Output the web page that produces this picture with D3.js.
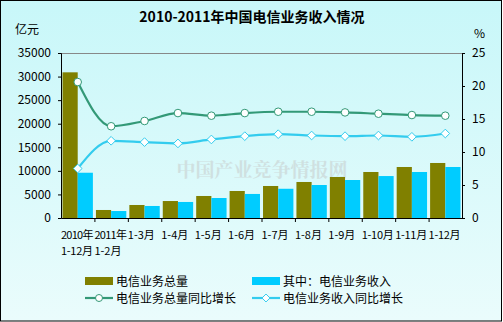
<!DOCTYPE html>
<html><head><meta charset="utf-8">
<script src="https://cdn.jsdelivr.net/npm/d3@7"></script>
<style>body{margin:0;padding:0;overflow:hidden}svg{display:block}</style>
</head><body>
<svg id="c" width="503" height="322"></svg>
<script>
const categories = ["2010年\n1-12月","2011年\n1-2月","1-3月","1-4月","1-5月","1-6月","1-7月","1-8月","1-9月","1-10月","1-11月","1-12月"];
const volume = [30900,1700,2760,3600,4670,5730,6790,7640,8700,9760,10820,11670];
const revenue = [9600,1480,2550,3400,4240,5100,6200,7000,8060,8900,9760,10820];
const volumeGrowth = [20.6,13.9,14.7,15.9,15.5,15.9,16.1,16.1,16.0,15.8,15.6,15.5];
const revenueGrowth = [7.5,11.7,11.5,11.3,11.9,12.4,12.7,12.5,12.4,12.5,12.3,12.8];
const leftTicks = [0,5000,10000,15000,20000,25000,30000,35000];
const rightTicks = [0,5,10,15,20,25];
const seriesNames = ["电信业务总量","其中：电信业务收入","电信业务总量同比增长","电信业务收入同比增长"];

const svg = d3.select("#c");
const W=503,H=322;
const font = "'Noto Sans CJK SC', sans-serif";
const defs = svg.append("defs");
const g1 = defs.append("linearGradient").attr("id","bg").attr("x1",0).attr("y1",0).attr("x2",0).attr("y2",1);
g1.append("stop").attr("offset","0%").attr("stop-color","#c8f7f9");
g1.append("stop").attr("offset","100%").attr("stop-color","#eafcfc");
svg.append("rect").attr("x",0.5).attr("y",0.5).attr("width",W-2).attr("height",H-1.5)
  .attr("fill","url(#bg)").attr("stroke","#000").attr("stroke-width",1);

const L=61,R=462,T=53,B=218;
const x = d3.scaleBand().domain(categories).range([L,R]).paddingInner(0).paddingOuter(0);
const yL = d3.scaleLinear().domain([0,35000]).range([B,T]);
const yR = d3.scaleLinear().domain([0,25]).range([B,T]);
const xs = d3.scaleBand().domain([0,1]).range([0,x.bandwidth()]).paddingInner(0).paddingOuter(0.1);

// plot top border
svg.append("line").attr("x1",L).attr("x2",R).attr("y1",T+0.5).attr("y2",T+0.5).attr("stroke","#888").attr("stroke-width",1);

// watermark
svg.append("text").attr("x",262).attr("y",177).attr("text-anchor","middle").attr("font-family","'Noto Serif CJK SC','Noto Sans CJK SC',serif")
  .attr("font-size",19).attr("font-weight","bold").attr("fill","#ccd8d8").attr("opacity",0.75).text("中国产业竞争情报网");

// bars
const colors = ["#808000","#00ccff"];
[volume,revenue].forEach((arr,si)=>{
  svg.append("g").selectAll("rect").data(arr).join("rect")
    .attr("x",(d,i)=>x(categories[i])+xs(si))
    .attr("width",xs.bandwidth())
    .attr("y",d=>yL(d)).attr("height",d=>B-yL(d))
    .attr("fill",colors[si]);
});

// axes
const axL = svg.append("g").attr("transform",`translate(${L},0)`)
  .call(d3.axisLeft(yL).tickValues(leftTicks).tickSize(3).tickFormat(d3.format("d")));
const axR = svg.append("g").attr("transform",`translate(${R},0)`)
  .call(d3.axisRight(yR).tickValues(rightTicks).tickSize(3));
const axB = svg.append("g").attr("transform",`translate(0,${B})`)
  .call(d3.axisBottom(x).tickSize(0).tickFormat(""));
[axL,axR,axB].forEach(a=>{a.select(".domain").attr("stroke","#000");a.selectAll(".tick line").attr("stroke","#000");
  a.selectAll("text").attr("font-family",font).attr("font-size",12).attr("fill","#000");});
axL.selectAll("text").attr("x",-10);
axR.selectAll("text").attr("x",10);
// category boundary ticks
svg.append("g").selectAll("line").data(categories.slice(1)).join("line")
  .attr("x1",d=>x(d)+0.5).attr("x2",d=>x(d)+0.5).attr("y1",B).attr("y2",B+4).attr("stroke","#000");
// x labels
const lblG = svg.append("g");
categories.forEach(d=>{
  d.split("\n").forEach((p,i)=>{
    const t = lblG.append("text").attr("x",x(d)).attr("y",239+i*16)
      .attr("font-family",font).attr("font-size",11).attr("fill","#000").text(p);
    let w = t.node().getComputedTextLength();
    if (w > 32) {
      const ls = -(w-32)/p.length - 0.05;
      t.attr("letter-spacing",ls.toFixed(2));
    }
  });
});

// unit labels
svg.append("text").attr("x",15).attr("y",34).attr("font-family",font).attr("font-size",12).text("亿元");
svg.append("text").attr("x",474).attr("y",38).attr("font-family",font).attr("font-size",12).text("%");
// title
svg.append("text").attr("x",252).attr("y",22).attr("text-anchor","middle").attr("font-family",font)
  .attr("font-size",14).attr("font-weight","bold").text("2010-2011年中国电信业务收入情况");

// lines
const lineColors = ["#339977","#33ccee"];
const cx = i=>x(categories[i])+x.bandwidth()/2;
[volumeGrowth,revenueGrowth].forEach((arr,si)=>{
  const line = d3.line().x((d,i)=>cx(i)).y(d=>yR(d)).curve(d3.curveMonotoneX);
  svg.append("path").attr("d",line(arr)).attr("fill","none").attr("stroke",lineColors[si]).attr("stroke-width",2.2);
  const gm = svg.append("g");
  if(si===0){
    gm.selectAll("circle").data(arr).join("circle").attr("cx",(d,i)=>cx(i)).attr("cy",d=>yR(d)).attr("r",3.8)
      .attr("fill","#fff").attr("stroke",lineColors[si]).attr("stroke-width",1);
  } else {
    gm.selectAll("path").data(arr).join("path").attr("d",d3.symbol(d3.symbolDiamond2,48))
      .attr("transform",(d,i)=>`translate(${cx(i)},${yR(d)})`)
      .attr("fill","#fff").attr("stroke",lineColors[si]).attr("stroke-width",1);
  }
});

// legend
const leg = [{x:85,y:281,t:0},{x:252,y:281,t:1},{x:85,y:298,t:2},{x:252,y:298,t:3}];
leg.forEach(l=>{
  const gl = svg.append("g");
  if(l.t<2){
    gl.append("rect").attr("x",l.x).attr("y",l.y-4).attr("width",28).attr("height",8).attr("fill",colors[l.t]);
  } else {
    const c=lineColors[l.t-2];
    gl.append("line").attr("x1",l.x).attr("x2",l.x+28).attr("y1",l.y).attr("y2",l.y).attr("stroke",c).attr("stroke-width",2.2);
    if(l.t===2) gl.append("circle").attr("cx",l.x+14).attr("cy",l.y).attr("r",3.5).attr("fill","#fff").attr("stroke",c);
    else gl.append("path").attr("d",d3.symbol(d3.symbolDiamond2,40)).attr("transform",`translate(${l.x+14},${l.y})`).attr("fill","#fff").attr("stroke",c);
  }
  gl.append("text").attr("x",l.x+31).attr("y",l.y+4.5).attr("font-family",font).attr("font-size",12).text(seriesNames[l.t]);
});
</script>
</body></html>
